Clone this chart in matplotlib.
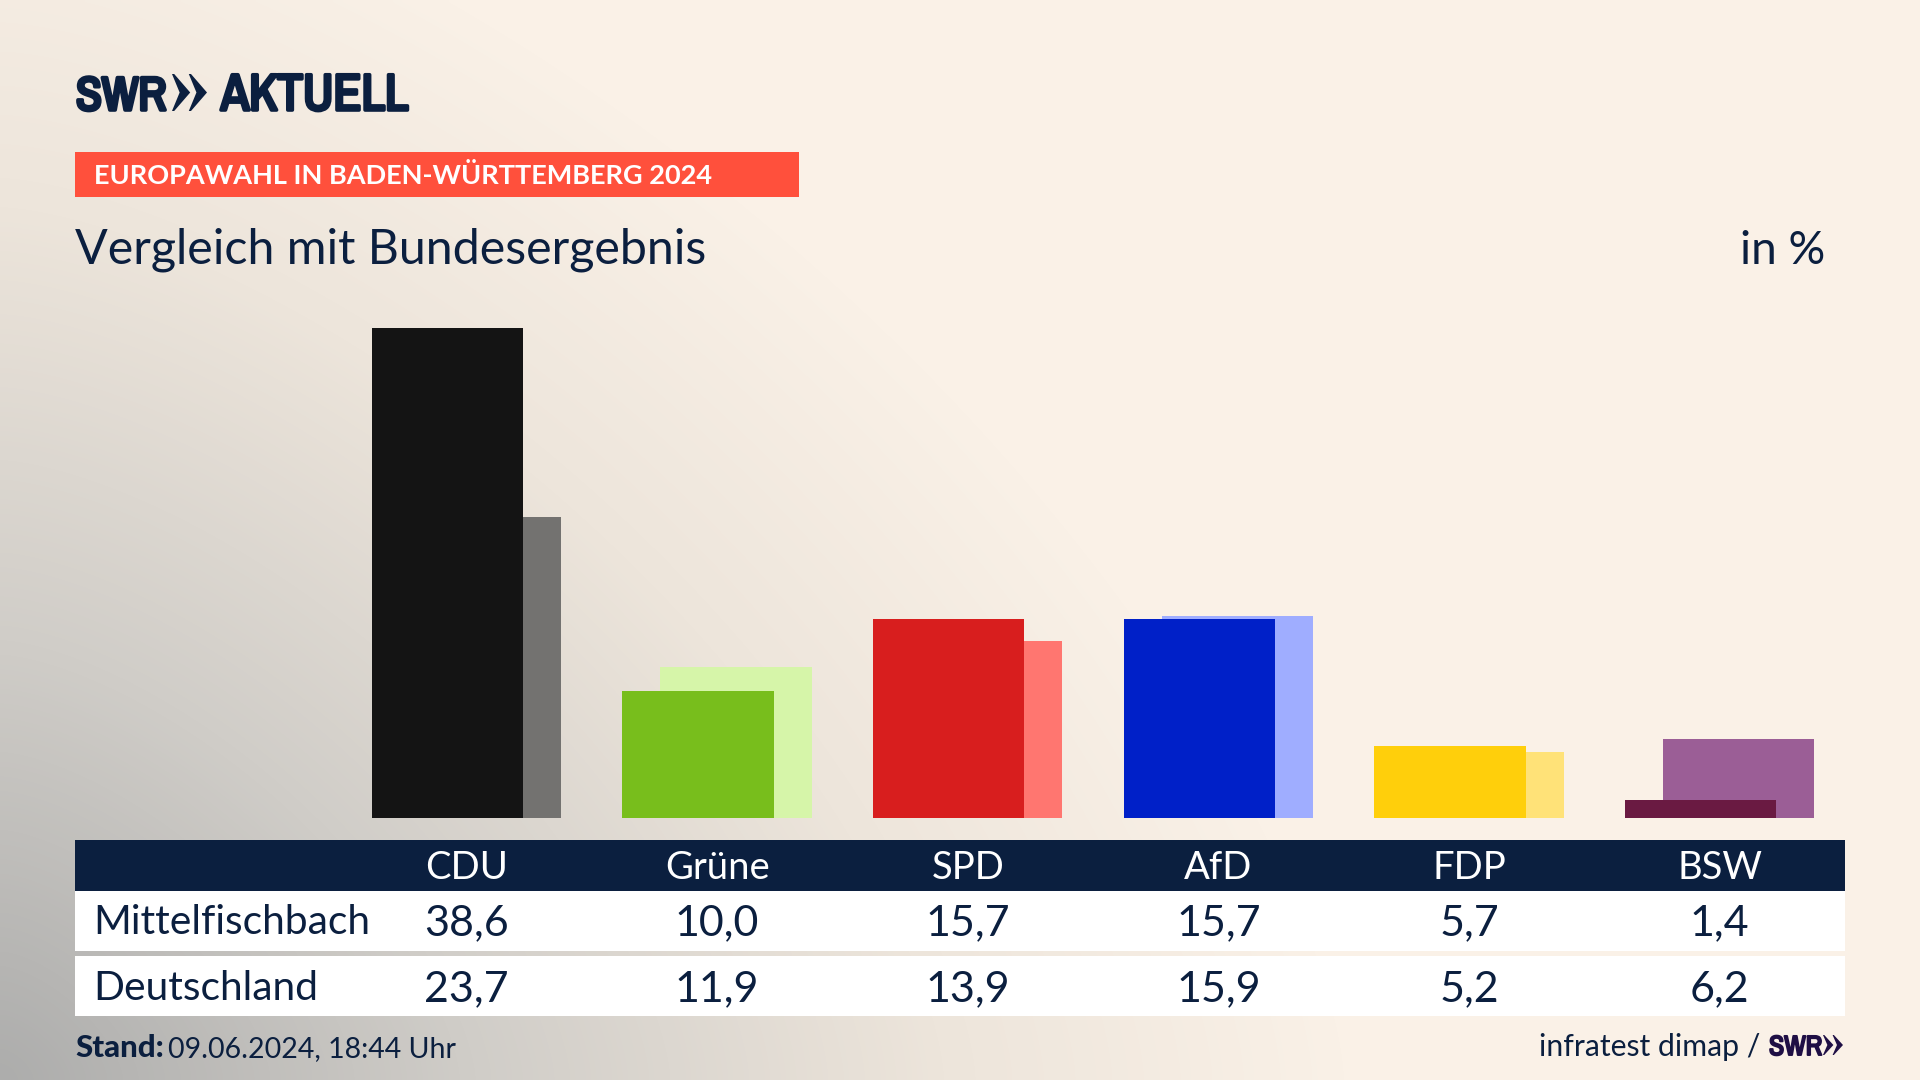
import numpy as np
import matplotlib
matplotlib.use("Agg")
import matplotlib.pyplot as plt
import matplotlib.patheffects as pe
from matplotlib import font_manager as fm
from matplotlib.colors import LinearSegmentedColormap
from matplotlib.patches import Rectangle, Polygon
from matplotlib.transforms import blended_transform_factory

parties = ["CDU", "Grüne", "SPD", "AfD", "FDP", "BSW"]
local_label = "Mittelfischbach"
national_label = "Deutschland"
local_values = [38.6, 10.0, 15.7, 15.7, 5.7, 1.4]
national_values = [23.7, 11.9, 13.9, 15.9, 5.2, 6.2]
front_colors = ["#141414", "#78BE1C", "#D81E1E", "#0020C8", "#FFCF0B", "#6A1A42"]
back_colors = ["#737270", "#D6F5A9", "#FF7670", "#9FADFF", "#FFE278", "#9B5E96"]

NAVY = "#0B1F3F"
FONT = "Lato"
plt.rcParams["font.family"] = [FONT, "DejaVu Sans"]

narrow = sorted({f.name for f in fm.fontManager.ttflist
                 if "narrow" in f.name.lower() or "condensed" in f.name.lower()})
if narrow:
    LOGO_FONT, LOGO_SWR, LOGO_AKT, FOOT_SWR = narrow[0], 34, 37, 19
else:
    LOGO_FONT, LOGO_SWR, LOGO_AKT, FOOT_SWR = FONT, 30, 33, 17

W, H = 1920, 1080
fig = plt.figure(figsize=(19.2, 10.8), dpi=100)

# background gradient
bg = fig.add_axes([0, 0, 1, 1], zorder=0)
bg.axis("off")
yy, xx = np.mgrid[0:H:270j, 0:W:480j]
p_norm = 1.5
t = np.clip(((xx / 1350) ** p_norm + ((H - yy) / 1250) ** p_norm) ** (1 / p_norm), 0, 1)
cmap = LinearSegmentedColormap.from_list(
    "bg", [(0, "#ADADAC"), (0.35, "#D0CDC8"), (0.7, "#EDE5DB"), (1, "#FAF1E7")])
bg.imshow(t, cmap=cmap, vmin=0, vmax=1, extent=[0, W, H, 0], aspect="auto", interpolation="bilinear")
bg.set_xlim(0, W)
bg.set_ylim(H, 0)


def px_text(x, y, s, size, color=NAVY, ha="left", weight="normal", family=None, stroke=0):
    txt = bg.text(x, y, s, fontsize=size, color=color, ha=ha, va="baseline", fontweight=weight,
                  family=family if family else [FONT, "DejaVu Sans"], zorder=5)
    if stroke:
        txt.set_path_effects([pe.withStroke(linewidth=stroke, foreground=color)])
    return txt


def px_rect(x0, y0, x1, y1, color):
    bg.add_patch(Rectangle((x0, y0), x1 - x0, y1 - y0, facecolor=color, edgecolor="none", zorder=2))


def chevrons(x0, y0, x1, y1, color):
    total = x1 - x0
    w = total * 0.52
    ym = (y0 + y1) / 2
    for xs in (x0, x0 + total - w):
        pts = [(xs, y0), (xs + w * 0.12, y0), (xs + w, ym), (xs + w * 0.12, y1), (xs, y1), (xs + w * 0.42, ym)]
        bg.add_patch(Polygon(pts, closed=True, facecolor=color, edgecolor="none", zorder=5))


# logo
px_text(76, 110, "SWR", LOGO_SWR, weight="bold", family=LOGO_FONT, stroke=2.6)
chevrons(172, 74, 207, 111, NAVY)
px_text(221, 110, "AKTUELL", LOGO_AKT, weight="bold", family=LOGO_FONT, stroke=2.6)

# headline block
px_rect(75, 152, 799, 197, "#FF503C")
px_text(94, 184, "EUROPAWAHL IN BADEN-WÜRTTEMBERG 2024", 19.5, color="white", weight="bold")
px_text(75, 264, "Vergleich mit Bundesergebnis", 34.8)
px_text(1825, 264, "in %", 33, ha="right")

# table bands
px_rect(75, 840, 1845, 891, NAVY)
px_rect(75, 891, 1845, 951, "white")
px_rect(75, 956, 1845, 1016, "white")

# bars
SCALE = 12.70
ax = fig.add_axes([75 / W, 1 - 818 / H, 1770 / W, 518 / H], zorder=3)
ax.patch.set_alpha(0)
ax.set_xlim(-1.562, 5.5)
ax.set_ylim(0, 518 / SCALE)
ax.axis("off")
pos = np.arange(len(parties))
ax.bar(pos + 0.0758, national_values, width=0.604, color=back_colors, linewidth=0, zorder=1)
ax.bar(pos - 0.0758, local_values, width=0.604, color=front_colors, linewidth=0, zorder=2)

# table text
tr = blended_transform_factory(ax.transData, bg.transData)
for i, p in enumerate(parties):
    ax.text(i, 879, p, transform=tr, ha="center", va="baseline", fontsize=27.5, color="white", clip_on=False)
    ax.text(i, 935, f"{local_values[i]:.1f}".replace(".", ","), transform=tr, ha="center", va="baseline",
            fontsize=31, color=NAVY, clip_on=False)
    ax.text(i, 1001, f"{national_values[i]:.1f}".replace(".", ","), transform=tr, ha="center", va="baseline",
            fontsize=31, color=NAVY, clip_on=False)
px_text(93, 934, local_label, 29.3)
px_text(93, 1000, national_label, 29.3)

# footer
px_text(75, 1057, "Stand:", 22.5, weight="black")
px_text(168, 1057, "09.06.2024, 18:44 Uhr", 20.5)
px_text(1760, 1056, "infratest dimap /", 21.7, ha="right")
px_text(1769, 1055, "SWR", FOOT_SWR + 1, color="#1F0F45", weight="bold", family=LOGO_FONT, stroke=1.4)
chevrons(1823, 1035, 1843, 1055, "#1F0F45")

fig.savefig("out.png", dpi=100)
